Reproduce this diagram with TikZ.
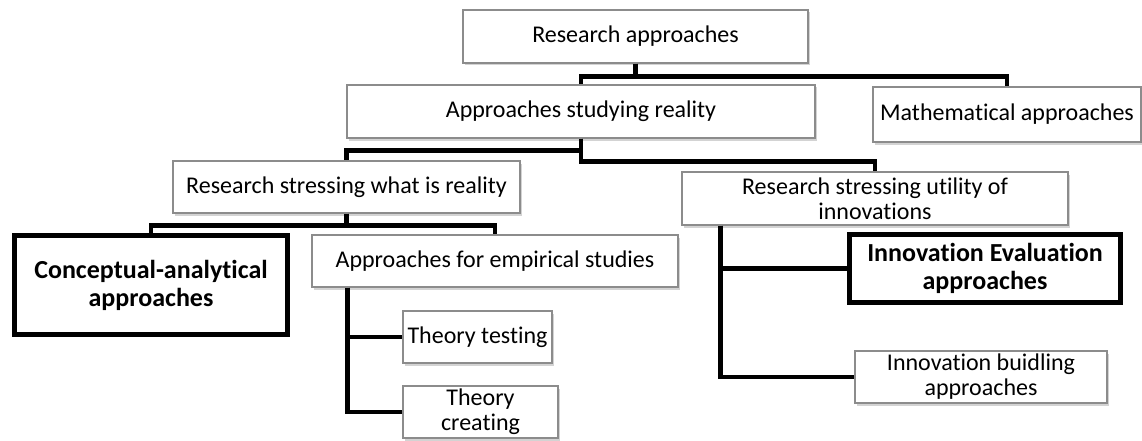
\documentclass[tikz,border=0pt]{standalone}
\usepackage{fontspec}
\setmainfont{Carlito}[Ligatures=NoCommon]
\usetikzlibrary{shapes}
\usetikzlibrary{shadows}

\begin{document}
\begin{tikzpicture}[x=1pt,y=-1pt]
	\tikzstyle{box}=[rectangle,draw=black!45,line width=1.2pt,fill=white,inner sep=0pt,align=center,font=\fontsize{24}{25}\selectfont,drop shadow={shadow xshift=2pt,shadow yshift=-2.5pt,opacity=0.35}]
	\tikzstyle{keybox}=[box,draw=black,line width=5pt,font=\fontsize{26}{28}\selectfont\bfseries]
	\tikzstyle{conn}=[line width=4.5pt]
	\useasboundingbox (0,0) rectangle (1142,441);

	% boxes
	\node[box,minimum width=345,minimum height=53] (ra) at (635.5,36.5) {Research approaches};
	\node[box,minimum width=468,minimum height=53] (asr) at (581,111.5) {Approaches studying reality};
	\node[box,minimum width=268,minimum height=55] (math) at (1007,114.5) {Mathematical approaches};
	\node[box,minimum width=347,minimum height=52] (rswr) at (346.5,187) {Research stressing what is reality};
	\node[box,minimum width=386,minimum height=53] (rsu) at (875,198.5) {Research stressing utility of\\innovations};
	\node[keybox,minimum width=273,minimum height=99] (ca) at (151,285) {Conceptual-analytical\\approaches};
	\node[box,minimum width=366,minimum height=52] (aes) at (495,261) {Approaches for empirical studies};
	\node[keybox,minimum width=271,minimum height=68] (ie) at (985,268.5) {Innovation Evaluation\\approaches};
	\node[box,minimum width=149,minimum height=52] (tt) at (477.5,337) {Theory testing};
	\node[box,minimum width=155,minimum height=52] (tc) at (480.5,412) {Theory\\creating};
	\node[box,minimum width=252,minimum height=52] (ib) at (981,377) {Innovation buidling\\approaches};

	% connectors
	\draw[conn] (ra.south) -- ++(0,13) -| (asr.north);
	\draw[conn] (ra.south) -- ++(0,13) -| (math.north);
	\draw[conn] (asr.south) -- ++(0,12) -| (rswr.north);
	\draw[conn] (asr.south) -- ++(0,23) -| (rsu.north);
	\draw[conn] (rswr.south) -- ++(0,12) -| (ca.north);
	\draw[conn] (rswr.south) -- ++(0,12) -| (aes.north);
	\draw[conn] ([xshift=36pt]aes.south west) |- (tt.west);
	\draw[conn] ([xshift=36pt]aes.south west) |- (tc.west);
	\draw[conn] ([xshift=39pt]rsu.south west) |- (ie.west);
	\draw[conn] ([xshift=39pt]rsu.south west) |- (ib.west);
\end{tikzpicture}
\end{document}
